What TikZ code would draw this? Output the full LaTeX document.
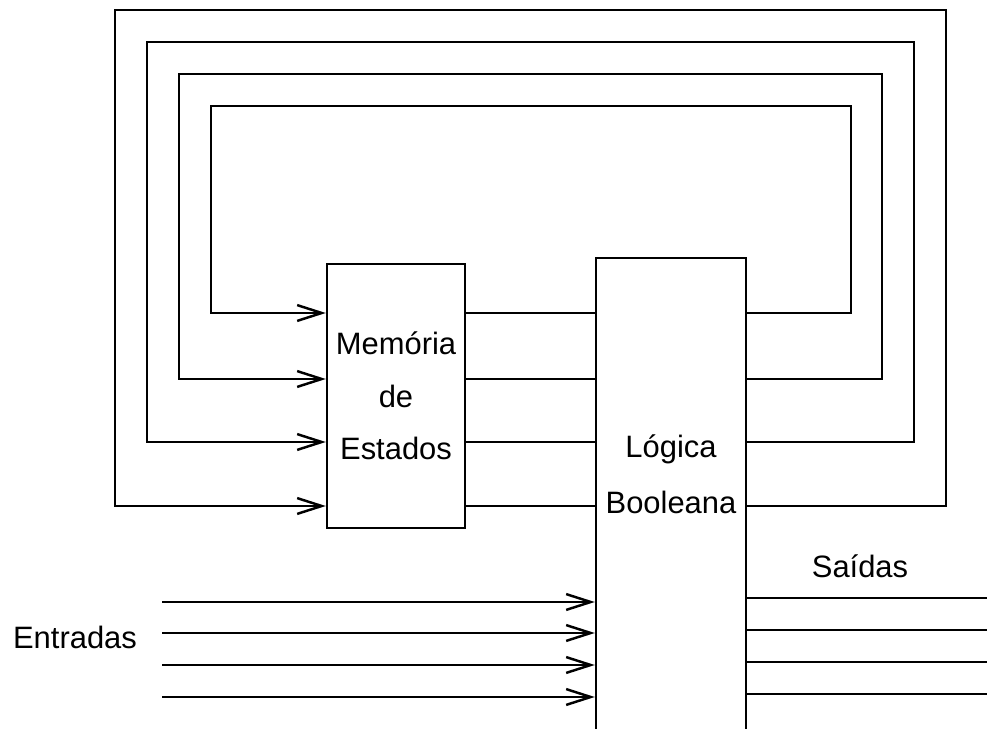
\documentclass[tikz,border=0pt]{standalone}
\usepackage{fontspec}
\setmainfont{Liberation Sans}
\usetikzlibrary{arrows.meta,positioning,calc}

\begin{document}
\begin{tikzpicture}[
    x=0.02cm, y=-0.02cm,
    line width=1.4pt,
    block/.style={rectangle, draw, line width=1.4pt, inner sep=0pt, align=center, font=\fontsize{17.6}{30}\selectfont},
    lbl/.style={inner sep=0pt, align=center, font=\fontsize{17.6}{32}\selectfont},
    arr/.style={-{Straight Barb[length=14pt,width=9pt]}}
]
    \useasboundingbox (0,0) rectangle (987,729);
    \clip (0,0) rectangle (987,729);

    \node[block, minimum width=2.76cm, minimum height=5.28cm] (mem) at (396,396) {Mem\'oria\\de\\Estados};
    \node[block, minimum width=3cm, minimum height=10.44cm] (logic) at (671,519) {};
    \node[lbl] (logictext) at (671,474) {L\'ogica\\Booleana};
    \node[lbl] (saidas) at (860,566) {Sa\'idas};
    \node[lbl] (entradas) at (75,637) {Entradas};

    % laços de realimentação
    \foreach \y/\r/\t/\l in {313/851/106/211, 379/882/74/179, 442/914/42/147, 506/946/10/115} {
        \draw (mem.east |- 0,\y) -- (logic.west |- 0,\y);
        \draw[arr] (logic.east |- 0,\y) -| (\r,\t) -| (\l,\y) -- (mem.west |- 0,\y);
    }

    % entradas e saídas
    \foreach \y [count=\i] in {602,633,665,697} {
        \coordinate (in\i) at (162,\y);
        \draw[arr] (in\i) -- (in\i -| logic.west);
    }
    \foreach \y [count=\i] in {598,630,662,694} {
        \coordinate (out\i) at (987,\y);
        \draw (logic.east |- out\i) -- (out\i);
    }
\end{tikzpicture}
\end{document}
